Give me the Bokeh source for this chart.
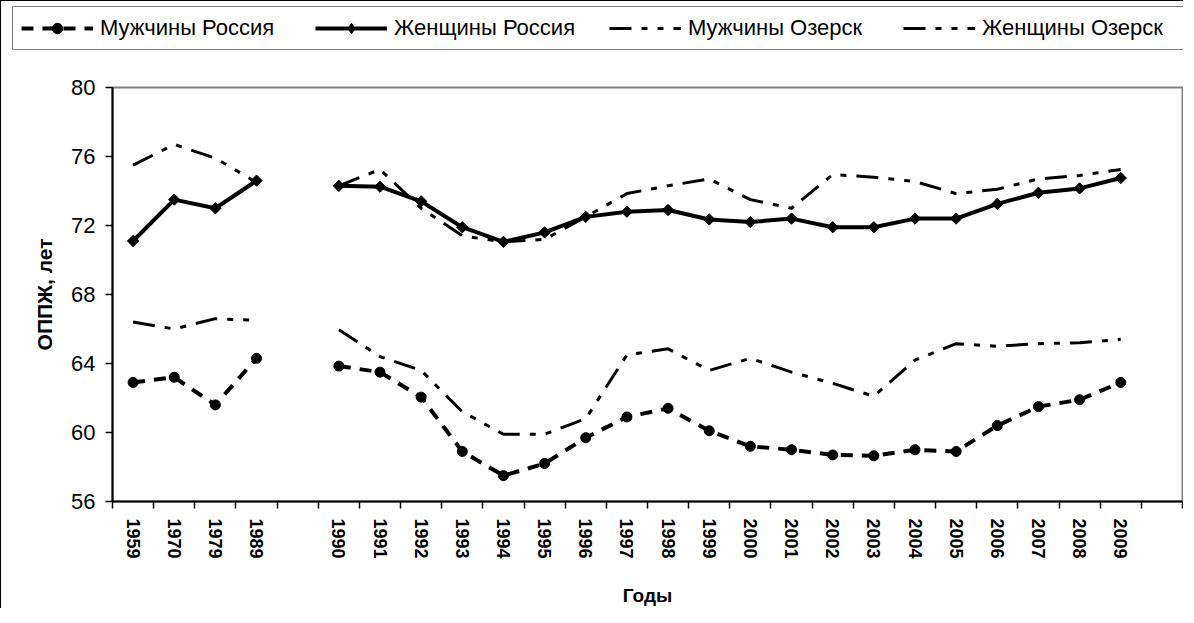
import numpy as np
from bokeh.plotting import figure
from bokeh.layouts import column
from bokeh.models import FixedTicker, Legend, LegendItem, Range1d
from bokeh.embed import file_html
from bokeh.resources import INLINE

# categories (blank slots are empty strings, as in the source chart)
categories = ["1959", "1970", "1979", "1989", "",
              "1990", "1991", "1992", "1993", "1994", "1995", "1996", "1997", "1998", "1999",
              "2000", "2001", "2002", "2003", "2004", "2005", "2006", "2007", "2008", "2009", ""]

N = None
men_russia = [62.9, 63.2, 61.6, 64.3, N,
              63.85, 63.5, 62.05, 58.9, 57.5, 58.2, 59.7, 60.9, 61.4, 60.1,
              59.2, 59.0, 58.7, 58.65, 59.0, 58.9, 60.4, 61.5, 61.9, 62.9, N]
women_russia = [71.1, 73.5, 73.0, 74.6, N,
                74.3, 74.25, 73.4, 71.9, 71.05, 71.6, 72.5, 72.8, 72.9, 72.35,
                72.2, 72.4, 71.9, 71.9, 72.4, 72.4, 73.25, 73.9, 74.15, 74.75, N]
men_ozersk = [66.4, 66.0, 66.6, 66.5, N,
              65.95, 64.4, 63.6, 61.2, 59.9, 59.9, 60.8, 64.5, 64.85, 63.6,
              64.3, 63.5, 62.85, 62.1, 64.2, 65.15, 65.0, 65.15, 65.2, 65.4, N]
women_ozersk = [75.5, 76.7, 75.9, 74.5, N,
                74.3, 75.25, 73.0, 71.4, 71.05, 71.2, 72.5, 73.85, 74.3, 74.7,
                73.5, 73.0, 74.95, 74.8, 74.55, 73.85, 74.1, 74.7, 74.9, 75.25, N]

y_ticks = [56, 60, 64, 68, 72, 76, 80]
series_labels = ["Мужчины Россия", "Женщины Россия", "Мужчины Озерск", "Женщины Озерск"]

FONT = "Liberation Sans"
n = len(categories)
x = np.arange(n) + 0.5

def arr(v):
    return np.array([np.nan if a is None else a for a in v], dtype=float)

# series styles
OZ_DASH = "22 10 6 10 6 10"
styles = [
    dict(line=dict(line_color="black", line_width=4, line_dash="12 9"),
         marker=dict(marker="circle", size=10, fill_color="black", line_color="black"),
         legend_marker=dict(marker="circle", size=10, fill_color="black", line_color="black")),
    dict(line=dict(line_color="black", line_width=4),
         marker=dict(marker="square", angle=np.pi / 4, size=8, fill_color="black", line_color="black"),
         legend_marker=dict(marker="diamond", size=13, fill_color="black", line_color="black")),
    dict(line=dict(line_color="black", line_width=3, line_dash=OZ_DASH), marker=None, legend_marker=None),
    dict(line=dict(line_color="black", line_width=3, line_dash=OZ_DASH), marker=None, legend_marker=None),
]
series = [men_russia, women_russia, men_ozersk, women_ozersk]

W = 1182

# ---------------- main chart ----------------
p = figure(width=W, height=557, output_backend="svg", toolbar_location=None,
           x_range=Range1d(0, n), y_range=Range1d(56, 80),
           min_border_left=111, min_border_right=1, min_border_top=36, min_border_bottom=107,
           background_fill_color="white", border_fill_color="white")
p.frame_align = False
p.xgrid.visible = False
p.ygrid.visible = False
p.outline_line_color = "#808080"
p.outline_line_width = 2

centers = [float(x[i]) for i, c in enumerate(categories) if c]
p.xaxis.ticker = FixedTicker(ticks=centers, minor_ticks=[float(i) for i in range(n + 1)])
p.xaxis.major_label_overrides = {float(x[i]): c for i, c in enumerate(categories) if c}
p.xaxis.major_tick_out = 0
p.xaxis.major_tick_in = 0
p.xaxis.minor_tick_out = 7
p.xaxis.minor_tick_in = 0
p.xaxis.minor_tick_line_color = "black"
p.xaxis.minor_tick_line_width = 1.5
p.xaxis.major_label_orientation = "vertical"
p.xaxis.major_label_text_font = FONT
p.xaxis.major_label_text_font_style = "bold"
p.xaxis.major_label_text_font_size = "18px"
p.xaxis.major_label_text_color = "black"
p.xaxis.major_label_standoff = 10
p.xaxis.axis_label = "Годы"
p.xaxis.axis_label_text_font = FONT
p.xaxis.axis_label_text_font_style = "bold"
p.xaxis.axis_label_text_font_size = "19px"
p.xaxis.axis_label_text_color = "black"
p.xaxis.axis_label_standoff = 23

p.yaxis.ticker = FixedTicker(ticks=y_ticks)
p.yaxis.major_tick_out = 7
p.yaxis.major_tick_in = 0
p.yaxis.minor_tick_out = 0
p.yaxis.minor_tick_in = 0
p.yaxis.major_label_text_font = FONT
p.yaxis.major_label_text_font_size = "22px"
p.yaxis.major_label_text_color = "black"
p.yaxis.major_label_standoff = 10
p.yaxis.axis_label = "ОППЖ, лет"
p.yaxis.axis_label_text_font = FONT
p.yaxis.axis_label_text_font_style = "bold"
p.yaxis.axis_label_text_font_size = "21px"
p.yaxis.axis_label_text_color = "black"
p.yaxis.axis_label_standoff = 12

for ax in (p.xaxis, p.yaxis):
    ax.axis_line_color = "black"
    ax.axis_line_width = 2
    ax.major_tick_line_color = "black"
    ax.major_tick_line_width = 1.5

for vals, st in zip(series, styles):
    p.line(x, arr(vals), **st["line"])
    if st["marker"]:
        p.scatter(x, arr(vals), **st["marker"])

# ---------------- legend strip (full width) ----------------
lg = figure(width=W, height=50, output_backend="svg", toolbar_location=None,
            x_range=Range1d(0, 1), y_range=Range1d(0, 1),
            x_axis_type=None, y_axis_type=None,
            min_border_left=0, min_border_right=0, min_border_top=0, min_border_bottom=0,
            background_fill_color="white", border_fill_color="white")
lg.frame_align = False
lg.outline_line_color = None
lg.xgrid.visible = False
lg.ygrid.visible = False
items = []
for label, st in zip(series_labels, styles):
    # legend-only renderers (no visible data points)
    rs = [lg.line([np.nan], [np.nan], **st["line"])]
    if st["legend_marker"]:
        rs.append(lg.scatter([np.nan], [np.nan], **st["legend_marker"]))
    items.append(LegendItem(label=label, renderers=rs))

legend = Legend(items=items, orientation="horizontal", location=(11, 1))
legend.glyph_width = 72
legend.glyph_height = 26
legend.label_height = 26
legend.label_standoff = 7
legend.label_width = 193
legend.spacing = 22
legend.padding = 8
legend.margin = 0
legend.border_line_color = "black"
legend.border_line_width = 1.5
legend.background_fill_color = "white"
legend.background_fill_alpha = 1
legend.label_text_font = FONT
legend.label_text_font_size = "22px"
legend.label_text_color = "black"
lg.add_layout(legend, "center")

layout = column(lg, p, spacing=0)
layout.styles = {"border-left": "1.5px solid black", "border-top": "1.5px solid black"}

open("out.html", "w").write(file_html(layout, INLINE))
